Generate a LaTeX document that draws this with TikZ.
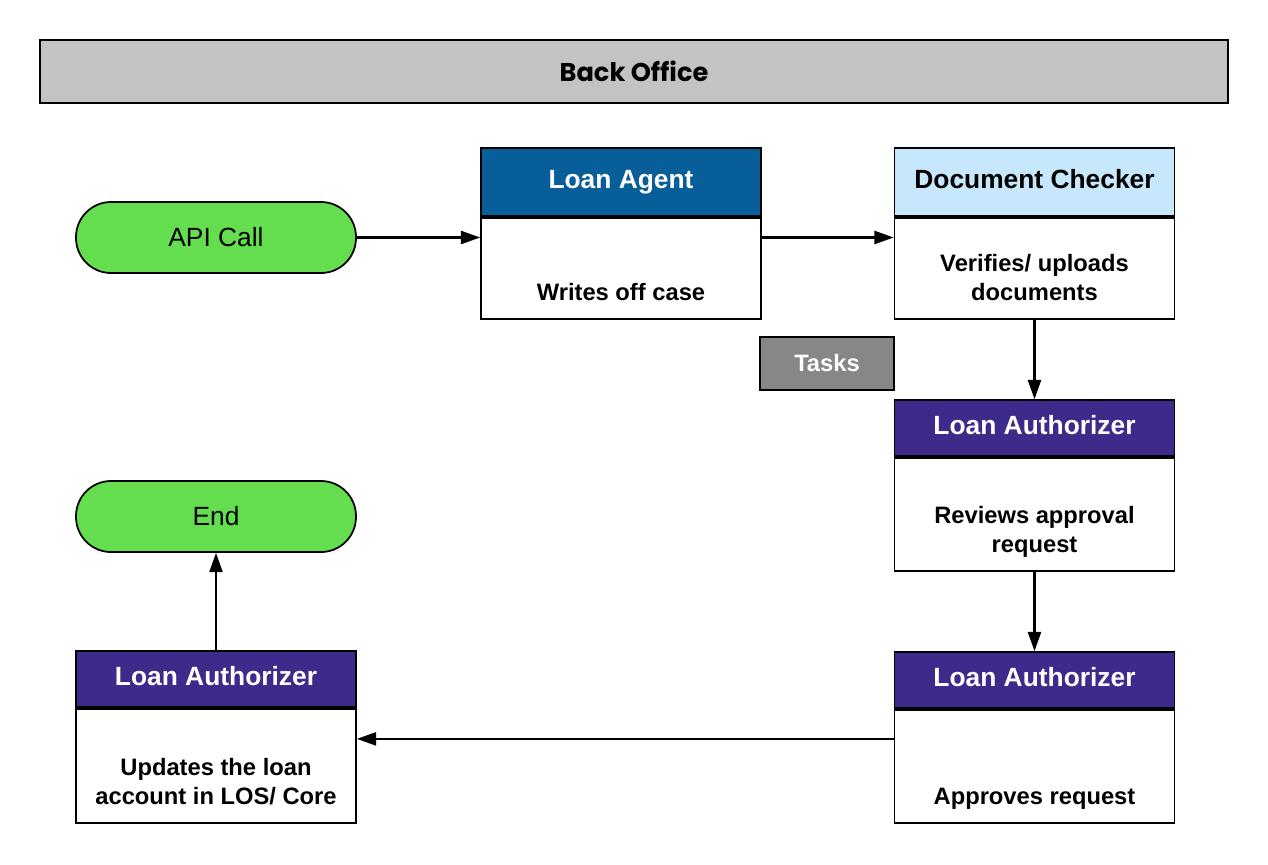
\documentclass[tikz,border=0pt]{standalone}
\usepackage{fontspec}
\usepackage{xcolor}
\usepackage{tikz}
\usetikzlibrary{arrows.meta, positioning, calc}
\setmainfont{Liberation Sans}
\newfontfamily\bannerfont{Poppins}
\definecolor{bannergray}{HTML}{C3C3C3}
\definecolor{startgreen}{HTML}{64DD4F}
\definecolor{agentblue}{HTML}{075E98}
\definecolor{checkerblue}{HTML}{C7E7FD}
\definecolor{authpurple}{HTML}{3D2A8A}
\definecolor{taskgray}{HTML}{878787}

\tikzset{
  pill/.style={draw, line width=1pt, fill=startgreen, rounded corners=0.7cm,
    minimum width=5.6cm, minimum height=1.42cm, font=\fontsize{15}{18}\selectfont},
  roleh/.style={draw, line width=1pt, minimum width=5.6cm, minimum height=1.36cm,
    text height=11pt, text depth=3.2pt, font=\fontsize{15}{18}\selectfont\bfseries},
  roleb/.style={draw, line width=1pt, fill=white, minimum width=5.6cm},
  roletxt/.style={align=center, inner sep=0pt, text depth=2.9pt,
    font=\fontsize{13.5}{16.4}\selectfont\bfseries},
  flow/.style={line width=1.2pt, -{Triangle[length=11pt, width=7.5pt]}}
}

\begin{document}
\begin{tikzpicture}
  \useasboundingbox (0,0) rectangle (25.36,-17.28);

  % Back Office
  \node[draw, line width=1pt, fill=bannergray, minimum width=23.76cm, minimum height=1.26cm,
    font=\bannerfont\bfseries\fontsize{14.6}{17}\selectfont] (banner) at (12.68,-1.43) {Back Office};

  % Start / end
  \node[pill] (api) at (4.32,-4.75) {API Call};
  \node[pill] (endN) at (4.32,-10.33) {End};

  % Loan Agent
  \node[roleh, fill=agentblue, text=white] (agentH) at (12.42,-3.64) {Loan Agent};
  \node[roleb, minimum height=2.02cm, below=0pt of agentH] (agentB) {};
  \node[roletxt, above=0.28cm of agentB.south] (agentT) {Writes off case};

  % Document Checker
  \node[roleh, fill=checkerblue] (docH) at (20.69,-3.64) {Document Checker};
  \node[roleb, minimum height=2.02cm, below=0pt of docH] (docB) {};
  \node[roletxt, above=0.28cm of docB.south] (docT) {Verifies/ uploads\\documents};

  % Tasks
  \node[draw, line width=1pt, fill=taskgray, text=white, minimum width=2.68cm, minimum height=1.06cm,
    font=\fontsize{13.5}{16}\selectfont\bfseries] (tasks) at (16.54,-7.27) {Tasks};

  % Loan Authorizer (review)
  \node[roleh, minimum height=1.12cm, fill=authpurple, text=white] (laOneH) at (20.69,-8.56) {Loan Authorizer};
  \node[roleb, minimum height=2.26cm, below=0pt of laOneH] (laOneB) {};
  \node[roletxt, above=0.28cm of laOneB.south] (laOneT) {Reviews approval\\request};

  % Loan Authorizer (approve)
  \node[roleh, minimum height=1.12cm, fill=authpurple, text=white] (laTwoH) at (20.69,-13.6) {Loan Authorizer};
  \node[roleb, minimum height=2.26cm, below=0pt of laTwoH] (laTwoB) {};
  \node[roletxt, above=0.28cm of laTwoB.south] (laTwoT) {Approves request};

  % Loan Authorizer (update)
  \node[roleh, minimum height=1.12cm, fill=authpurple, text=white] (laThreeH) at (4.32,-13.58) {Loan Authorizer};
  \node[roleb, minimum height=2.28cm, below=0pt of laThreeH] (laThreeB) {};
  \node[roletxt, above=0.28cm of laThreeB.south] (laThreeT) {Updates the loan\\account in LOS/ Core};

  % Flow
  \coordinate (handoff) at ([yshift=-0.6cm]laTwoB.north west);
  \draw[flow] (api.east) -- (api.east -| agentB.west);
  \draw[flow] (api.east -| agentB.east) -- (api.east -| docB.west);
  \draw[flow] (docB.south) -- (laOneH.north);
  \draw[flow] (laOneB.south) -- (laTwoH.north);
  \draw[flow] (handoff) -- (handoff -| laThreeB.east);
  \draw[flow] (laThreeH.north) -- (endN.south);
\end{tikzpicture}
\end{document}
